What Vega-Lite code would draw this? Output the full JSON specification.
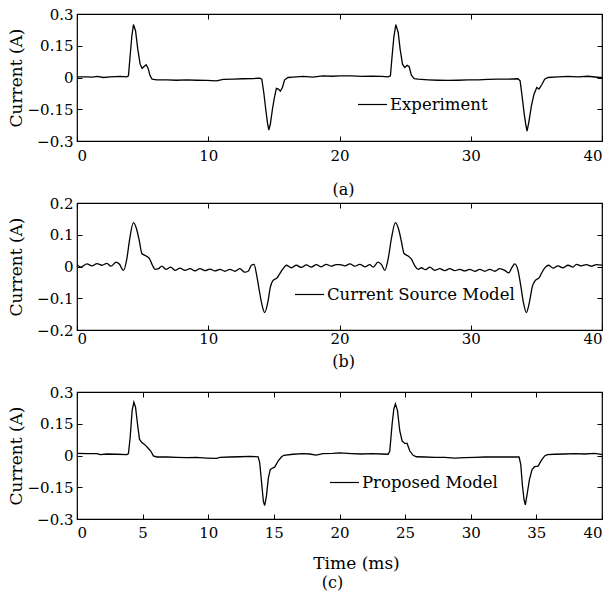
{
  "$schema": "https://vega.github.io/schema/vega-lite/v6.json",
  "padding": {"left": 6, "top": 6, "right": 8, "bottom": 4},
  "background": "white",
  "config": {
    "font": "DejaVu Serif",
    "view": {"stroke": "black", "strokeWidth": 1.2},
    "axis": {
      "domain": false, "grid": false, "tickColor": "black", "tickSize": -5, "tickWidth": 1,
      "labelColor": "black", "labelFontSize": 15, "labelFont": "DejaVu Serif",
      "labelExpr": "replace(datum.value + '', '-', '−')",
      "titleFont": "DejaVu Serif", "titleFontSize": 17, "titleFontWeight": "normal", "titleColor": "black"
    },
    "legend": {"labelFont": "DejaVu Serif", "labelColor": "black", "labelLimit": 400},
    "title": {"font": "DejaVu Serif", "fontSize": 16, "fontWeight": "normal", "color": "black"}
  },
  "datasets": {
    "a": [
      {"t":0,"i":0.003},{"t":0.76,"i":0.003},{"t":1.2,"i":0.002},{"t":1.52,"i":0.005},{"t":2.03,"i":0},{"t":2.53,"i":0.003},{"t":3.29,"i":0.005},{"t":3.8,"i":0.003},{"t":3.92,"i":0.008},{"t":4.05,"i":0.103},{"t":4.18,"i":0.197},{"t":4.3,"i":0.25},{"t":4.46,"i":0.221},{"t":4.63,"i":0.134},{"t":4.81,"i":0.063},{"t":4.96,"i":0.043},{"t":5.11,"i":0.052},{"t":5.27,"i":0.06},{"t":5.42,"i":0.043},{"t":5.57,"i":0.008},{"t":5.72,"i":-0.008},{"t":6.08,"i":-0.011},{"t":6.84,"i":-0.011},{"t":7.59,"i":-0.013},{"t":8.35,"i":-0.011},{"t":9.11,"i":-0.013},{"t":9.87,"i":-0.014},{"t":10.63,"i":-0.016},{"t":11.14,"i":-0.009},{"t":11.9,"i":-0.008},{"t":12.66,"i":-0.006},{"t":13.42,"i":-0.005},{"t":13.92,"i":-0.003},{"t":14.08,"i":-0.008},{"t":14.23,"i":-0.071},{"t":14.38,"i":-0.15},{"t":14.51,"i":-0.213},{"t":14.61,"i":-0.248},{"t":14.73,"i":-0.221},{"t":14.89,"i":-0.15},{"t":15.04,"i":-0.095},{"t":15.19,"i":-0.051},{"t":15.34,"i":-0.055},{"t":15.49,"i":-0.065},{"t":15.65,"i":-0.047},{"t":15.82,"i":-0.011},{"t":16.08,"i":0},{"t":16.46,"i":0.002},{"t":17.22,"i":0.005},{"t":17.97,"i":0.002},{"t":18.73,"i":0.008},{"t":19.49,"i":0.006},{"t":20.0,"i":0.008},{"t":20.91,"i":0.008},{"t":21.68,"i":0.005},{"t":22.44,"i":0.006},{"t":23.2,"i":0.005},{"t":23.71,"i":0.003},{"t":23.88,"i":0.008},{"t":24.01,"i":0.103},{"t":24.14,"i":0.19},{"t":24.29,"i":0.25},{"t":24.47,"i":0.213},{"t":24.62,"i":0.134},{"t":24.8,"i":0.063},{"t":24.97,"i":0.047},{"t":25.15,"i":0.058},{"t":25.3,"i":0.052},{"t":25.48,"i":0.011},{"t":25.69,"i":-0.005},{"t":25.99,"i":-0.008},{"t":26.75,"i":-0.011},{"t":27.51,"i":-0.013},{"t":28.27,"i":-0.014},{"t":29.04,"i":-0.013},{"t":29.8,"i":-0.011},{"t":30.56,"i":-0.011},{"t":31.32,"i":-0.009},{"t":32.08,"i":-0.008},{"t":32.84,"i":-0.008},{"t":33.6,"i":-0.006},{"t":33.76,"i":-0.016},{"t":33.91,"i":-0.087},{"t":34.06,"i":-0.166},{"t":34.19,"i":-0.221},{"t":34.29,"i":-0.253},{"t":34.42,"i":-0.213},{"t":34.62,"i":-0.134},{"t":34.82,"i":-0.079},{"t":35.03,"i":-0.047},{"t":35.2,"i":-0.055},{"t":35.43,"i":-0.032},{"t":35.63,"i":-0.008},{"t":35.89,"i":0},{"t":36.65,"i":0.003},{"t":37.41,"i":0.005},{"t":38.17,"i":0.003},{"t":38.93,"i":0.006},{"t":39.82,"i":0},{"t":40,"i":0.001}
    ],
    "b": [
      {"t":0,"i":0.006},{"t":0.3,"i":-0.002},{"t":0.76,"i":0.008},{"t":1.14,"i":0.002},{"t":1.52,"i":0.009},{"t":1.9,"i":0.004},{"t":2.28,"i":0.01},{"t":2.58,"i":0.001},{"t":2.99,"i":0.014},{"t":3.22,"i":0.008},{"t":3.54,"i":-0.012},{"t":3.8,"i":0.025},{"t":4.0,"i":0.083},{"t":4.3,"i":0.138},{"t":4.56,"i":0.115},{"t":4.76,"i":0.078},{"t":4.94,"i":0.041},{"t":5.27,"i":0.033},{"t":5.52,"i":0.025},{"t":5.75,"i":0.004},{"t":5.95,"i":-0.009},{"t":6.2,"i":-0.007},{"t":6.46,"i":0.001},{"t":6.78,"i":-0.009},{"t":7.14,"i":-0.002},{"t":7.47,"i":-0.012},{"t":7.85,"i":-0.005},{"t":8.23,"i":-0.012},{"t":8.61,"i":-0.007},{"t":8.99,"i":-0.014},{"t":9.37,"i":-0.007},{"t":9.75,"i":-0.013},{"t":10.13,"i":-0.008},{"t":10.51,"i":-0.014},{"t":10.89,"i":-0.009},{"t":11.27,"i":-0.015},{"t":11.65,"i":-0.009},{"t":12.03,"i":-0.015},{"t":12.41,"i":-0.007},{"t":12.78,"i":-0.018},{"t":13.04,"i":-0.015},{"t":13.29,"i":0.004},{"t":13.49,"i":0.007},{"t":13.67,"i":-0.023},{"t":13.87,"i":-0.071},{"t":14.08,"i":-0.118},{"t":14.3,"i":-0.145},{"t":14.56,"i":-0.108},{"t":14.73,"i":-0.065},{"t":14.94,"i":-0.044},{"t":15.24,"i":-0.036},{"t":15.44,"i":-0.023},{"t":15.7,"i":-0.007},{"t":15.95,"i":0.004},{"t":16.33,"i":-0.004},{"t":16.71,"i":0.004},{"t":17.09,"i":-0.003},{"t":17.47,"i":0.005},{"t":17.85,"i":-0.002},{"t":18.23,"i":0.006},{"t":18.61,"i":-0.001},{"t":18.99,"i":0.007},{"t":19.37,"i":0.001},{"t":19.75,"i":0.006},{"t":20.03,"i":0.006},{"t":20.41,"i":0.002},{"t":20.79,"i":0.008},{"t":21.17,"i":0.001},{"t":21.55,"i":0.007},{"t":21.93,"i":-0.001},{"t":22.31,"i":0.006},{"t":22.56,"i":-0.002},{"t":22.94,"i":0.014},{"t":23.2,"i":0.006},{"t":23.45,"i":-0.012},{"t":23.71,"i":0.025},{"t":23.96,"i":0.089},{"t":24.26,"i":0.138},{"t":24.52,"i":0.115},{"t":24.72,"i":0.078},{"t":24.92,"i":0.041},{"t":25.23,"i":0.033},{"t":25.48,"i":0.023},{"t":25.74,"i":0.002},{"t":25.99,"i":-0.009},{"t":26.24,"i":-0.004},{"t":26.55,"i":-0.01},{"t":26.88,"i":-0.002},{"t":27.26,"i":-0.012},{"t":27.64,"i":-0.007},{"t":28.02,"i":-0.013},{"t":28.4,"i":-0.007},{"t":28.78,"i":-0.013},{"t":29.16,"i":-0.009},{"t":29.54,"i":-0.014},{"t":29.92,"i":-0.009},{"t":30.3,"i":-0.015},{"t":30.69,"i":-0.009},{"t":31.07,"i":-0.015},{"t":31.45,"i":-0.009},{"t":31.83,"i":-0.015},{"t":32.21,"i":-0.007},{"t":32.59,"i":-0.012},{"t":32.89,"i":-0.02},{"t":33.15,"i":-0.002},{"t":33.35,"i":0.008},{"t":33.6,"i":-0.012},{"t":33.81,"i":-0.06},{"t":34.01,"i":-0.113},{"t":34.24,"i":-0.145},{"t":34.49,"i":-0.108},{"t":34.7,"i":-0.062},{"t":34.92,"i":-0.044},{"t":35.2,"i":-0.036},{"t":35.43,"i":-0.018},{"t":35.69,"i":-0.002},{"t":35.94,"i":0.004},{"t":36.27,"i":-0.005},{"t":36.65,"i":0.002},{"t":37.03,"i":-0.004},{"t":37.41,"i":0.004},{"t":37.79,"i":-0.002},{"t":38.05,"i":0.007},{"t":38.43,"i":0.002},{"t":38.81,"i":0.006},{"t":39.19,"i":0.001},{"t":39.57,"i":0.006},{"t":40,"i":0.004}
    ],
    "c": [
      {"t":0,"i":0.01},{"t":0.76,"i":0.009},{"t":1.52,"i":0.009},{"t":1.77,"i":0.004},{"t":2.28,"i":0.007},{"t":3.04,"i":0.006},{"t":3.8,"i":0.004},{"t":3.92,"i":0.009},{"t":4.05,"i":0.085},{"t":4.2,"i":0.212},{"t":4.33,"i":0.252},{"t":4.46,"i":0.228},{"t":4.61,"i":0.149},{"t":4.76,"i":0.077},{"t":4.94,"i":0.061},{"t":5.19,"i":0.05},{"t":5.44,"i":0.033},{"t":5.62,"i":0.021},{"t":5.82,"i":-0.002},{"t":6.08,"i":-0.007},{"t":6.84,"i":-0.007},{"t":7.59,"i":-0.009},{"t":8.35,"i":-0.01},{"t":9.11,"i":-0.009},{"t":9.87,"i":-0.012},{"t":10.63,"i":-0.014},{"t":10.89,"i":-0.009},{"t":11.65,"i":-0.007},{"t":12.41,"i":-0.006},{"t":13.16,"i":-0.004},{"t":13.8,"i":-0.006},{"t":13.92,"i":-0.034},{"t":14.08,"i":-0.138},{"t":14.2,"i":-0.217},{"t":14.3,"i":-0.236},{"t":14.43,"i":-0.193},{"t":14.58,"i":-0.106},{"t":14.73,"i":-0.066},{"t":14.94,"i":-0.058},{"t":15.06,"i":-0.055},{"t":15.32,"i":-0.026},{"t":15.57,"i":-0.007},{"t":15.75,"i":0.001},{"t":16.46,"i":0.006},{"t":17.22,"i":0.009},{"t":17.72,"i":0.007},{"t":18.23,"i":0.002},{"t":18.73,"i":0.009},{"t":19.49,"i":0.01},{"t":20.0,"i":0.012},{"t":20.91,"i":0.009},{"t":21.68,"i":0.007},{"t":22.44,"i":0.009},{"t":23.2,"i":0.007},{"t":23.71,"i":0.006},{"t":23.83,"i":0.021},{"t":24.01,"i":0.149},{"t":24.14,"i":0.22},{"t":24.26,"i":0.244},{"t":24.42,"i":0.212},{"t":24.59,"i":0.117},{"t":24.77,"i":0.069},{"t":24.97,"i":0.057},{"t":25.15,"i":0.057},{"t":25.36,"i":0.021},{"t":25.61,"i":0.001},{"t":25.86,"i":-0.006},{"t":26.5,"i":-0.007},{"t":27.26,"i":-0.009},{"t":28.02,"i":-0.009},{"t":28.78,"i":-0.012},{"t":29.54,"i":-0.01},{"t":30.3,"i":-0.009},{"t":31.07,"i":-0.007},{"t":31.83,"i":-0.007},{"t":32.59,"i":-0.007},{"t":33.35,"i":-0.007},{"t":33.68,"i":-0.007},{"t":33.81,"i":-0.042},{"t":33.93,"i":-0.137},{"t":34.06,"i":-0.209},{"t":34.16,"i":-0.233},{"t":34.29,"i":-0.185},{"t":34.47,"i":-0.114},{"t":34.67,"i":-0.066},{"t":34.87,"i":-0.053},{"t":35.13,"i":-0.05},{"t":35.38,"i":-0.023},{"t":35.63,"i":-0.002},{"t":35.84,"i":0.004},{"t":36.4,"i":0.006},{"t":37.16,"i":0.007},{"t":37.92,"i":0.009},{"t":38.68,"i":0.007},{"t":39.44,"i":0.01},{"t":39.82,"i":0.006},{"t":40,"i":0.004}
    ]
  },
  "spacing": 62,
  "bounds": "flush",
  "resolve": {"scale": {"color": "independent"}, "legend": {"color": "independent"}},
  "vconcat": [
    {
      "width": 525, "height": 127,
      "data": {"name": "a"},
      "title": {"text": "(a)", "orient": "bottom", "offset": 19, "dx": 4},
      "resolve": {"axis": {"x": "independent", "y": "independent"}},
      "layer": [
        {
          "mark": {"type": "line", "strokeWidth": 1.3},
          "encoding": {
            "x": {"field": "t", "type": "quantitative", "scale": {"domain": [0, 40], "nice": false},
                  "axis": {"orient": "bottom", "title": null, "values": [0, 10, 20, 30, 40], "labelPadding": 12}},
            "y": {"field": "i", "type": "quantitative", "scale": {"domain": [-0.3, 0.3], "nice": false, "zero": false},
                  "axis": {"orient": "left", "title": "Current (A)", "values": [-0.3, -0.15, 0, 0.15, 0.3], "labelPadding": 9, "titlePadding": 2}},
            "color": {"datum": "Experiment", "type": "nominal", "scale": {"range": ["black"]},
                      "legend": {"orient": "none", "legendX": 280, "legendY": 75, "title": null, "symbolType": "stroke", "symbolSize": 841, "symbolStrokeWidth": 1.2, "labelFontSize": 16.5, "labelOffset": 2, "padding": 0}}
          }
        },
        {
          "mark": {"type": "line", "strokeOpacity": 0},
          "encoding": {
            "x": {"field": "t", "type": "quantitative", "axis": {"orient": "top", "title": null, "labels": false, "values": [0, 10, 20, 30, 40]}},
            "y": {"field": "i", "type": "quantitative", "axis": {"orient": "right", "title": null, "labels": false, "values": [-0.3, -0.15, 0, 0.15, 0.3]}}
          }
        }
      ]
    },
    {
      "width": 525, "height": 127,
      "data": {"name": "b"},
      "title": {"text": "(b)", "orient": "bottom", "offset": 8, "dx": 4},
      "resolve": {"axis": {"x": "independent", "y": "independent"}},
      "layer": [
        {
          "mark": {"type": "line", "strokeWidth": 1.3, "interpolate": "monotone"},
          "encoding": {
            "x": {"field": "t", "type": "quantitative", "scale": {"domain": [0, 40], "nice": false},
                  "axis": {"orient": "bottom", "title": null, "values": [0, 10, 20, 30, 40], "labelPadding": 6}},
            "y": {"field": "i", "type": "quantitative", "scale": {"domain": [-0.2, 0.2], "nice": false, "zero": false},
                  "axis": {"orient": "left", "title": "Current (A)", "values": [-0.2, -0.1, 0, 0.1, 0.2], "labelPadding": 9, "titlePadding": 11}},
            "color": {"datum": "Current Source Model", "type": "nominal", "scale": {"range": ["black"]},
                      "legend": {"orient": "none", "legendX": 217, "legendY": 76, "title": null, "symbolType": "stroke", "symbolSize": 841, "symbolStrokeWidth": 1.2, "labelFontSize": 16.5, "labelOffset": 2, "padding": 0}}
          }
        },
        {
          "mark": {"type": "line", "strokeOpacity": 0},
          "encoding": {
            "x": {"field": "t", "type": "quantitative", "axis": {"orient": "top", "title": null, "labels": false, "values": [0, 10, 20, 30, 40]}},
            "y": {"field": "i", "type": "quantitative", "axis": {"orient": "right", "title": null, "labels": false, "values": [-0.2, -0.1, 0, 0.1, 0.2]}}
          }
        }
      ]
    },
    {
      "width": 525, "height": 127,
      "data": {"name": "c"},
      "title": {"text": "(c)", "orient": "bottom", "offset": 4, "dx": -7},
      "resolve": {"axis": {"x": "independent", "y": "independent"}},
      "layer": [
        {
          "mark": {"type": "line", "strokeWidth": 1.3},
          "encoding": {
            "x": {"field": "t", "type": "quantitative", "scale": {"domain": [0, 40], "nice": false},
                  "axis": {"orient": "bottom", "title": "Time (ms)", "values": [0, 5, 10, 15, 20, 25, 30, 35, 40], "labelPadding": 11, "titlePadding": 15, "titleX": 279}},
            "y": {"field": "i", "type": "quantitative", "scale": {"domain": [-0.3, 0.3], "nice": false, "zero": false},
                  "axis": {"orient": "left", "title": "Current (A)", "values": [-0.3, -0.15, 0, 0.15, 0.3], "labelPadding": 9, "titlePadding": 2}},
            "color": {"datum": "Proposed Model", "type": "nominal", "scale": {"range": ["black"]},
                      "legend": {"orient": "none", "legendX": 252, "legendY": 75, "title": null, "symbolType": "stroke", "symbolSize": 841, "symbolStrokeWidth": 1.2, "labelFontSize": 16.5, "labelOffset": 2, "padding": 0}}
          }
        },
        {
          "mark": {"type": "line", "strokeOpacity": 0},
          "encoding": {
            "x": {"field": "t", "type": "quantitative", "axis": {"orient": "top", "title": null, "labels": false, "values": [0, 5, 10, 15, 20, 25, 30, 35, 40]}},
            "y": {"field": "i", "type": "quantitative", "axis": {"orient": "right", "title": null, "labels": false, "values": [-0.3, -0.15, 0, 0.15, 0.3]}}
          }
        }
      ]
    }
  ]
}
